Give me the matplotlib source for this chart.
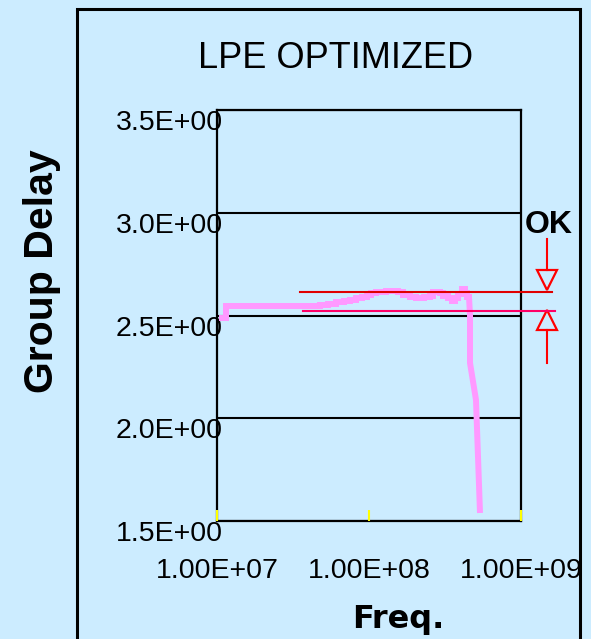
import matplotlib
matplotlib.use("Agg")
import matplotlib.pyplot as plt
from matplotlib.patches import Rectangle

# ---- data ----
# flat / ripple part of the group-delay trace (stair-stepped)
freq_flat = [1.079e7, 1.146e7, 4.76e7, 5.37e7, 6.07e7, 6.85e7, 7.50e7, 8.21e7,
             8.99e7, 9.70e7, 1.031e8, 1.112e8, 1.294e8, 1.552e8, 1.674e8,
             1.861e8, 2.038e8, 2.300e8, 2.519e8, 2.637e8, 2.932e8, 3.068e8,
             3.309e8, 3.517e8, 3.681e8, 3.851e8, 4.091e8, 4.281e8, 4.413e8,
             4.549e8]
delay_flat = [2.488, 2.546, 2.551, 2.558, 2.566, 2.571, 2.575, 2.583,
              2.590, 2.600, 2.609, 2.614, 2.617, 2.614, 2.600,
              2.590, 2.585, 2.590, 2.595, 2.614, 2.609, 2.595,
              2.585, 2.571, 2.585, 2.604, 2.629, 2.609, 2.590,
              2.590]
# roll-off part
freq_drop = [4.549e8, 4.619e8, 4.619e8, 5.057e8, 5.374e8]
delay_drop = [2.590, 2.502, 2.269, 2.089, 1.539]

upper_limit = 2.613
upper_span = [3.5e7, 1.6e9]
lower_limit = 2.521
lower_span = [3.68e7, 1.68e9]

arrow_x = 1.48e9
down_arrow_shaft = [2.872, 2.721]
down_arrow_head = 2.673
up_arrow_head = 2.476
up_arrow_shaft = [2.429, 2.269]

xticks = [1e7, 1e8, 1e9]
xticklabels = ["1.00E+07", "1.00E+08", "1.00E+09"]
yticks = [1.5, 2.0, 2.5, 3.0, 3.5]
yticklabels = ["1.5E+00", "2.0E+00", "2.5E+00", "3.0E+00", "3.5E+00"]

title = "LPE OPTIMIZED"
xlabel = "Freq."
ylabel = "Group Delay"
ok_text = "OK"

# ---- style ----
bg = "#CCECFF"
pink = "#FF99FF"
W, H = 591, 639
plt.rcParams["font.family"] = ["Liberation Sans", "DejaVu Sans"]

fig = plt.figure(figsize=(W / 100, H / 100), dpi=100, facecolor=bg)
ax = fig.add_axes([217 / W, 1 - 521 / H, 304 / W, 411 / H])
ax.set_facecolor(bg)

ax.set_xscale("log")
ax.set_xlim(1e7, 1e9)
ax.set_ylim(1.5, 3.5)
ax.minorticks_off()

ax.set_xticks(xticks)
ax.set_xticklabels(xticklabels)
ax.set_yticks(yticks)
ax.set_yticklabels(yticklabels)
ax.xaxis.set_minor_locator(matplotlib.ticker.NullLocator())

ax.tick_params(axis="x", direction="in", length=8, width=1.5, color="#FFFF00",
               labelsize=20.5, pad=27, labelcolor="black")
ax.tick_params(axis="y", length=0, labelsize=20.5, pad=-4.3, labelcolor="black")
for lab in ax.get_yticklabels():
    lab.set_va("top")

ax.yaxis.grid(True, color="black", lw=1.5)
ax.set_axisbelow(True)
for s in ax.spines.values():
    s.set_color("black")
    s.set_linewidth(1.6)
ax.xaxis.set_zorder(3.5)

# curve
ax.plot(freq_flat, delay_flat, color=pink, lw=4.3, drawstyle="steps-post",
        solid_joinstyle="miter", zorder=3)
ax.plot(freq_drop, delay_drop, color=pink, lw=4.3, solid_capstyle="butt",
        solid_joinstyle="miter", zorder=3)

# limit lines
ax.plot(upper_span, [upper_limit, upper_limit], color="#E00000", lw=1.5,
        clip_on=False, zorder=4)
ax.plot(lower_span, [lower_limit, lower_limit], color="#FF0066", lw=1.5,
        clip_on=False, zorder=4)

# arrows
ax.plot([arrow_x, arrow_x], down_arrow_shaft, color="red", lw=1.5, clip_on=False)
ax.plot([arrow_x], [down_arrow_head], marker="v", markersize=14.5, mfc="none",
        mec="red", mew=1.6, clip_on=False, linestyle="none")
ax.plot([arrow_x], [up_arrow_head], marker="^", markersize=14.5, mfc="none",
        mec="red", mew=1.6, clip_on=False, linestyle="none")
ax.plot([arrow_x, arrow_x], up_arrow_shaft, color="red", lw=1.5, clip_on=False)

# texts
fig.text(336 / W, 1 - 68 / H, title, ha="center", va="baseline", fontsize=26)
fig.text(42 / W, 1 - 271 / H, ylabel, ha="center", va="center", rotation=90,
         fontsize=29.5, fontweight="bold")
fig.text(398 / W, 1 - 628 / H, xlabel, ha="center", va="baseline",
         fontsize=23, fontweight="bold", family="DejaVu Sans")
fig.text(549 / W, 1 - 233 / H, ok_text, ha="center", va="baseline",
         fontsize=23, fontweight="bold")

# panel border
fig.add_artist(Rectangle((77 / W, -0.05), (580 - 77) / W, 1.05 - 8.5 / H,
                         transform=fig.transFigure, fill=False,
                         edgecolor="black", lw=2.2, zorder=5))

fig.savefig("out.png", dpi=100, facecolor=bg)
